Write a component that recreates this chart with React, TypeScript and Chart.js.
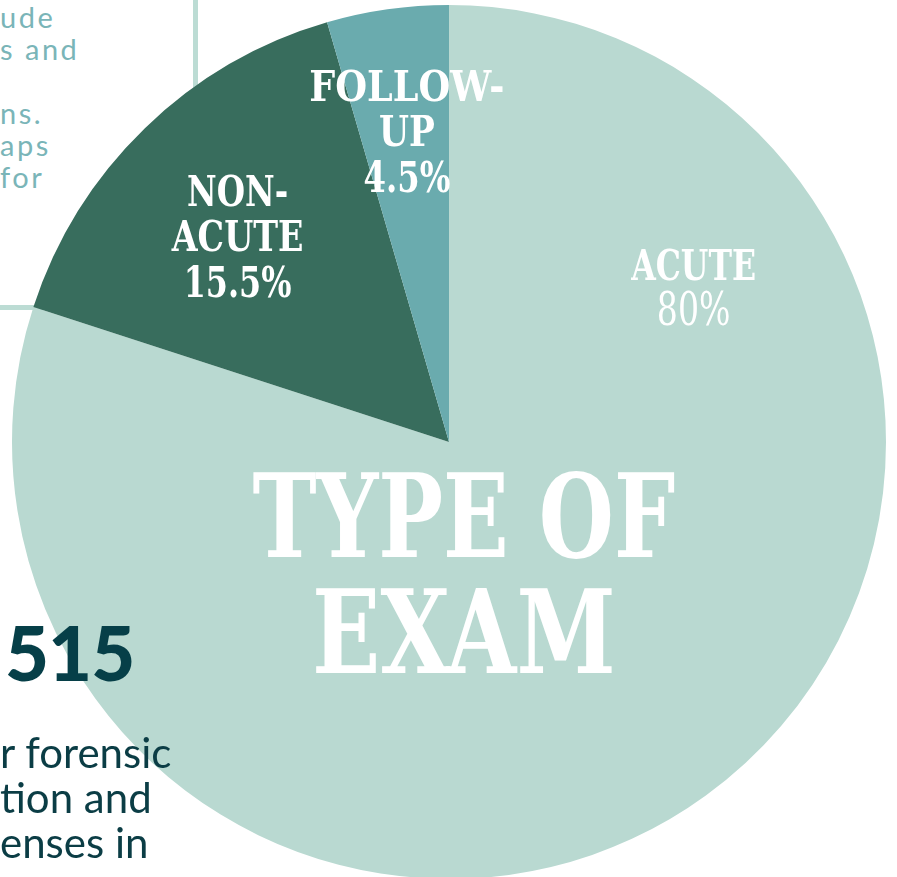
import React, { useEffect, useRef } from "react";
import { Chart, registerables } from "chart.js";

Chart.register(...registerables);

// ---- data ----
const categories = ["ACUTE", "NON-ACUTE", "FOLLOW-UP"];
const labelLines = [["ACUTE"], ["NON-", "ACUTE"], ["FOLLOW-", "UP"]];
const values = [80, 15.5, 4.5];
const valueLabels = ["80%", "15.5%", "4.5%"];
const sliceColors = ["#b9d9d1", "#386d5d", "#6aabae"];
const titleLines = ["TYPE OF", "EXAM"];
const topLeftLines = ["ude", "s and", "", "ns.", "aps", "for"];
const bottomNumber = "515";
const bottomLines = ["r forensic", "tion and", "enses in"];

const SERIF = "'DejaVu Serif', serif";

// label placement: angle clockwise from top (deg), distance as fraction of radius
const labelSpec = [
  { angle: 57.46, dist: 0.664, size: 43, lh: 44, scales: [0.735], valueWeight: "normal", valueSize: 46, valueScale: 0.72 },
  { angle: 314.3, dist: 0.676, size: 43, lh: 45.5, scales: [0.755, 0.775], valueWeight: "bold", valueSize: 43, valueScale: 0.74 },
  { angle: 352.3, dist: 0.719, size: 43, lh: 45.5, scales: [0.85, 0.8], valueWeight: "bold", valueSize: 43, valueScale: 0.75 },
];

type Line = { text: string; size: number; weight: string; scale: number };

const labelPlugin = {
  id: "sliceLabels",
  afterDatasetsDraw(chart: any) {
    const ctx = chart.ctx as CanvasRenderingContext2D;
    const meta = chart.getDatasetMeta(0);
    const arc = meta.data[0];
    const { x: cx, y: cy, outerRadius: r } = arc.getProps(["x", "y", "outerRadius"], true);
    ctx.save();
    ctx.fillStyle = "#ffffff";
    ctx.textAlign = "center";
    ctx.textBaseline = "alphabetic";
    const drawBlock = (lines: Line[], x: number, y: number, lh: number) => {
      const n = lines.length;
      lines.forEach((ln, i) => {
        const capH = ln.size * 0.729;
        const by = y + (i - (n - 1) / 2) * lh + capH / 2;
        ctx.save();
        ctx.font = `${ln.weight} ${ln.size}px ${SERIF}`;
        ctx.setTransform(ln.scale, 0, 0, 1, x, by);
        ctx.fillText(ln.text, 0, 0);
        ctx.restore();
      });
    };
    categories.forEach((_, i) => {
      const s = labelSpec[i];
      const a = ((s.angle - 90) * Math.PI) / 180;
      const x = cx + Math.cos(a) * s.dist * r;
      const y = cy + Math.sin(a) * s.dist * r;
      const lines: Line[] = labelLines[i].map((t, j) => ({ text: t, size: s.size, weight: "bold", scale: s.scales[j] }));
      lines.push({ text: valueLabels[i], size: s.valueSize, weight: s.valueWeight, scale: s.valueScale });
      drawBlock(lines, x, y, s.lh);
    });
    drawBlock(
      titleLines.map((t, j) => ({ text: t, size: 116.5, weight: "bold", scale: j === 0 ? 0.74 : 0.77 })),
      cx + r * 0.034,
      cy + r * 0.298,
      116
    );
    ctx.restore();
  },
};

export default function App() {
  const ref = useRef<HTMLCanvasElement | null>(null);
  useEffect(() => {
    if (!ref.current) return;
    const chart = new Chart(ref.current, {
      type: "pie",
      data: {
        labels: categories,
        datasets: [
          {
            data: values,
            backgroundColor: sliceColors,
            borderWidth: 0,
          },
        ],
      },
      options: {
        responsive: false,
        animation: false,
        devicePixelRatio: 1,
        layout: { padding: { left: 12, right: 11, top: 5, bottom: 5 } },
        plugins: { legend: { display: false }, tooltip: { enabled: false } },
      },
      plugins: [labelPlugin],
    });
    return () => chart.destroy();
  }, []);

  return (
    <div
      style={{
        position: "fixed",
        left: 0,
        top: 0,
        width: 897,
        height: 877,
        overflow: "hidden",
        background: "#ffffff",
      }}
    >
      {/* background box */}
      <div
        style={{
          position: "absolute",
          left: -10,
          top: -10,
          width: 203,
          height: 315,
          borderRight: "5px solid #bcdcd4",
          borderBottom: "5px solid #bcdcd4",
        }}
      />
      <div
        style={{
          position: "absolute",
          left: 0,
          top: 1,
          fontFamily: "Lato, sans-serif",
          fontWeight: 400,
          fontSize: 29,
          lineHeight: "32px",
          letterSpacing: "2.5px",
          color: "#7ab5b8",
          whiteSpace: "pre",
        }}
      >
        {topLeftLines.map((t, i) => (
          <div key={i}>{t || " "}</div>
        ))}
      </div>
      <canvas
        ref={ref}
        width={897}
        height={884}
        style={{ position: "absolute", left: 0, top: 0, width: 897, height: 884 }}
      />
      <div
        style={{
          position: "absolute",
          left: 5,
          top: 602,
          fontFamily: "Lato, sans-serif",
          fontWeight: 900,
          fontSize: 76,
          lineHeight: "100px",
          letterSpacing: "-1px",
          color: "#063f48",
          whiteSpace: "pre",
        }}
      >
        {bottomNumber}
      </div>
      <div
        style={{
          position: "absolute",
          left: 0,
          top: 730,
          fontFamily: "Lato, sans-serif",
          fontSize: 42,
          lineHeight: "45px",
          color: "#0b3d45",
          whiteSpace: "pre",
        }}
      >
        {bottomLines.map((t, i) => (
          <div key={i}>{t}</div>
        ))}
      </div>
    </div>
  );
}
